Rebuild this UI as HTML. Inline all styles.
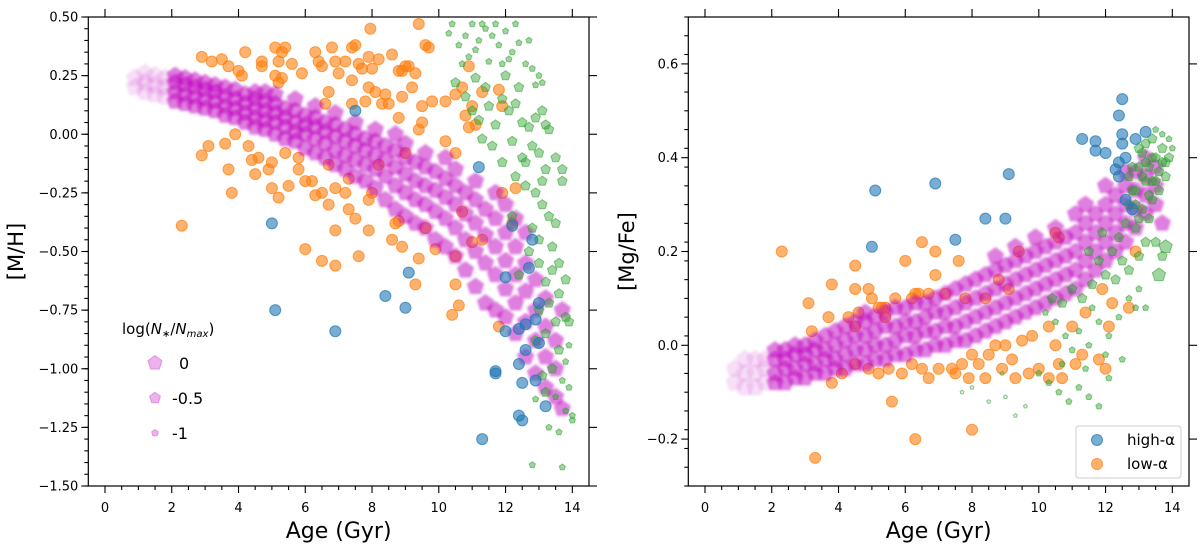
<!DOCTYPE html>
<html><head><meta charset="utf-8"><style>
html,body{margin:0;padding:0;background:#fff}
svg{display:block}
text{font-family:"DejaVu Sans","Liberation Sans",sans-serif;fill:#000}
</style></head><body>
<svg id="chart" width="1200" height="546" viewBox="0 0 1200 546" xmlns="http://www.w3.org/2000/svg">
<defs><filter id="soft" x="-5%" y="-5%" width="110%" height="110%"><feGaussianBlur stdDeviation="1.4"/></filter></defs>
</svg>
<script>
// ---------- data ----------
const xTicks=[0,2,4,6,8,10,12,14];
const leftYTicks=[0.5,0.25,0,-0.25,-0.5,-0.75,-1,-1.25,-1.5];
const leftYTickLabels=["0.50","0.25","0.00","\u22120.25","\u22120.50","\u22120.75","\u22121.00","\u22121.25","\u22121.50"];
const rightYTicks=[0.6,0.4,0.2,0,-0.2];
const rightYTickLabels=["0.6","0.4","0.2","0.0","\u22120.2"];

// magenta band (model): ages and values per age
const magAges=[0.9,1.2,1.5,1.8,2.1,2.4,2.7,3.0,3.3,3.6,3.9,4.2,4.5,4.8,5.1,5.4,5.7,6.0,6.3,6.6,6.9,7.2,7.5,7.8,8.1,8.4,8.7,9.0,9.3,9.6,9.9,10.2,10.5,10.8,11.1,11.4,11.7,12.0,12.3,12.6,12.9,13.2,13.5,13.7];
const magMH=[[0.20,0.24],[0.18,0.22,0.26],[0.17,0.21,0.25],[0.16,0.20,0.24],[0.14,0.18,0.22,0.25],[0.13,0.17,0.21,0.24],[0.12,0.16,0.20,0.23],[0.11,0.15,0.19,0.22],[0.10,0.14,0.18,0.21],[0.08,0.12,0.16,0.20],[0.07,0.11,0.15,0.19],[0.05,0.09,0.13,0.17],[0.03,0.07,0.11,0.15,0.18],[0.02,0.06,0.10,0.14,0.18],[0.00,0.05,0.09,0.13,0.17],[-0.02,0.03,0.07,0.11],[-0.03,0.01,0.05,0.10,0.15],[-0.06,0.00,0.04,0.08],[-0.08,-0.02,0.03,0.07,0.12],[-0.10,-0.04,0.01,0.05],[-0.13,-0.07,-0.01,0.04,0.09],[-0.15,-0.09,-0.03,0.02],[-0.18,-0.11,-0.05,0.00,0.05],[-0.20,-0.13,-0.07,-0.02],[-0.23,-0.15,-0.09,-0.03,0.02],[-0.28,-0.18,-0.11,-0.05],[-0.32,-0.22,-0.14,-0.07,0.00],[-0.35,-0.25,-0.17,-0.10,-0.04],[-0.38,-0.28,-0.20,-0.12],[-0.40,-0.30,-0.22,-0.14,-0.08],[-0.45,-0.33,-0.24,-0.16],[-0.48,-0.36,-0.27,-0.19,-0.10],[-0.52,-0.40,-0.30,-0.22,-0.15],[-0.58,-0.45,-0.34,-0.25],[-0.65,-0.50,-0.38,-0.28,-0.20],[-0.72,-0.55,-0.43,-0.32],[-0.75,-0.60,-0.48,-0.36,-0.25],[-0.78,-0.66,-0.54,-0.42,-0.30],[-0.85,-0.72,-0.60,-0.48,-0.36],[-0.95,-0.80,-0.67,-0.55,-0.42],[-1.02,-0.88,-0.75,-0.62],[-1.08,-0.95,-0.82,-0.70],[-1.12,-1.00,-0.88],[-1.17,-0.75]];
const magMgFe=[[-0.08,-0.05],[-0.09,-0.06,-0.03],[-0.09,-0.06,-0.03],[-0.08,-0.05,-0.03],[-0.08,-0.06,-0.03,-0.01],[-0.08,-0.05,-0.03,-0.01],[-0.07,-0.05,-0.02,0.00],[-0.07,-0.04,-0.02,0.00],[-0.06,-0.04,-0.01,0.01],[-0.06,-0.03,-0.01,0.02],[-0.05,-0.03,0.00,0.03],[-0.05,-0.02,0.01,0.04],[-0.04,-0.01,0.02,0.05],[-0.04,-0.01,0.02,0.05,0.07],[-0.03,0.00,0.03,0.06],[-0.03,0.00,0.04,0.07],[-0.02,0.01,0.04,0.08],[-0.02,0.02,0.05,0.08],[-0.01,0.02,0.05,0.09],[-0.01,0.03,0.06,0.09],[0.00,0.03,0.07,0.10],[0.00,0.04,0.07,0.11],[0.01,0.04,0.08,0.12],[0.01,0.05,0.09,0.13],[0.02,0.06,0.10,0.14],[0.03,0.07,0.11,0.15],[0.04,0.08,0.12,0.16,0.19],[0.05,0.09,0.13,0.17],[0.06,0.10,0.14,0.18,0.21],[0.07,0.11,0.15,0.19],[0.08,0.12,0.16,0.20,0.23],[0.09,0.13,0.17,0.21],[0.10,0.14,0.18,0.22,0.25],[0.11,0.15,0.19,0.23],[0.12,0.16,0.20,0.24,0.28],[0.14,0.18,0.22,0.26,0.30],[0.16,0.20,0.24,0.28],[0.18,0.22,0.26,0.30,0.34],[0.20,0.24,0.28,0.32],[0.22,0.26,0.30,0.34,0.37],[0.25,0.29,0.33,0.37],[0.28,0.32,0.36,0.40],[0.30,0.34,0.38],[0.26]];

// low-alpha stars (orange)
const lowAge1=[2.3,2.9,3.2,3.5,3.7,4.2,4.0,4.1,4.7,4.7,5.1,5.4,5.3,5.2,5.6,5.1,5.3,5.2,5.9,6.3,6.4,6.5,6.8,6.9,7.2,7.5,7.4,7.6,7.7,7.9,8.2,8.0,8.6,8.8,8.9,9.1,9.3,9.4,9.6,9.7,7.95,9.0,7.0,6.7,7.4,7.9,8.1,8.4,8.5,8.9,9.2,9.5,9.8,10.2,10.5,10.7,10.9,11.0,10.8,11.1,10.9,11.3,11.8,11.9,8.8,9.4,9.5,3.1,2.9,3.6,3.9,3.7,3.8,4.3,4.4,4.5,4.6,4.9,5.0,5.4,5.0,5.2,5.5,5.8,6.0,6.2,6.3,6.5,6.7,6.9,7.2,7.3,7.5,7.9,8.0,6.9,7.9,6.0,6.5,6.9,7.6,8.7,8.8,8.6,8.9,9.4,9.6,9.9,10.5,10.7,10.5,10.6,10.4,9.3,11.3,11.0,11.8,11.9,12.2,12.3,10.5,10.2,9.0,8.2,7.3,6.7,5.8,6.6,7.4,7.8,8.3];
const lowMH=[-0.39,0.33,0.31,0.32,0.29,0.35,0.27,0.25,0.31,0.29,0.37,0.37,0.35,0.31,0.30,0.25,0.24,0.22,0.26,0.35,0.31,0.29,0.37,0.31,0.31,0.38,0.37,0.30,0.28,0.33,0.32,0.28,0.34,0.27,0.27,0.29,0.26,0.47,0.38,0.37,0.45,0.29,0.26,0.18,0.23,0.20,0.18,0.17,0.13,0.16,0.20,0.12,0.14,0.14,0.17,0.20,0.29,0.12,0.08,0.04,0.03,0.18,0.19,0.12,0.07,0.02,0.05,-0.05,-0.09,-0.04,0.00,-0.15,-0.25,-0.05,-0.11,-0.17,-0.10,-0.15,-0.12,-0.08,-0.23,-0.27,-0.22,-0.15,-0.20,-0.20,-0.26,-0.25,-0.30,-0.23,-0.25,-0.32,-0.36,-0.28,-0.25,-0.41,-0.41,-0.49,-0.54,-0.56,-0.52,-0.38,-0.37,-0.45,-0.48,-0.53,-0.40,-0.49,-0.52,-0.33,-0.64,-0.73,-0.77,-0.64,-0.45,-0.46,-0.82,-0.25,-0.38,-0.23,-0.08,-0.03,-0.08,-0.13,-0.19,-0.13,-0.10,0.13,0.13,0.14,0.13];
const lowAge2=[2.3,3.1,3.2,3.7,3.8,3.8,3.3,4.3,4.5,4.5,4.5,4.6,4.9,5.0,5.2,5.3,5.4,5.4,5.7,5.6,6.0,6.2,6.3,6.4,6.5,6.7,6.9,6.9,7.6,7.2,6.3,8.0,6.7,7.5,7.9,8.4,8.9,9.3,9.7,10.0,10.3,10.7,10.6,11.1,11.8,12.0,12.1,12.2,12.7,12.9,10.5,10.6,9.4,11.4,11.0,10.5,10.3,9.8,9.5,9.0,8.7,8.5,8.2,8.0,7.7,7.4,7.0,6.5,6.2,5.9,5.5,5.2,4.9,4.5,4.1,11.3,9.2,9.1,8.4,8.8,7.8,11.9];
const lowMgFe=[0.20,0.09,0.03,0.06,0.13,-0.08,-0.24,0.06,0.04,0.12,0.17,0.07,0.12,0.10,0.08,0.08,0.08,0.06,0.10,-0.12,0.18,0.10,0.11,0.11,0.22,0.11,0.20,0.15,0.18,0.11,-0.20,-0.18,-0.07,-0.06,-0.07,-0.07,-0.05,-0.07,-0.06,-0.05,-0.07,-0.07,-0.04,-0.04,-0.03,-0.05,0.04,0.09,0.08,0.20,0.24,0.23,0.20,0.07,0.04,0.00,0.04,0.02,0.01,0.00,0.00,-0.02,-0.04,-0.02,-0.04,-0.05,-0.05,-0.05,-0.04,-0.06,-0.05,-0.06,-0.05,-0.04,-0.06,-0.02,-0.03,0.12,0.10,0.14,0.10,0.12];

// high-alpha stars (blue)
const highAge1=[5.0,5.1,6.9,8.4,9.0,9.1,7.5,11.2,11.7,11.7,11.3,12.0,12.0,12.2,12.4,12.4,12.5,12.4,12.5,12.6,12.7,12.8,12.9,13.0,12.9,13.2,13.0,12.6];
const highMH=[-0.38,-0.75,-0.84,-0.69,-0.74,-0.59,0.10,-0.14,-1.01,-1.02,-1.30,-0.84,-0.61,-0.39,-0.98,-0.83,-1.06,-1.20,-1.22,-0.81,-0.57,-0.45,-0.79,-0.72,-1.05,-1.16,-0.89,-0.92];
const highAge2=[5.0,5.1,6.9,7.5,8.4,9.0,9.1,11.3,11.7,11.7,12.0,12.4,12.5,12.5,12.5,13.2,12.3,12.4,12.6,12.9,12.4,12.6,12.8];
const highMgFe=[0.21,0.33,0.345,0.225,0.27,0.27,0.365,0.44,0.435,0.415,0.41,0.49,0.525,0.45,0.43,0.455,0.375,0.39,0.40,0.44,0.36,0.31,0.29];

// green model population: age, value, log(N/Nmax) size class
const grnAge1=[10.3,10.6,10.8,11.0,11.2,11.4,11.6,11.8,12.0,12.2,12.4,11.1,10.9,11.5,11.9,12.6,12.8,12.3,11.3,10.4,12.7,11.7,12.1,10.7,13.0,13.1,12.9,10.5,10.8,11.0,11.2,11.5,11.7,11.9,12.1,12.3,12.5,12.7,12.9,13.1,11.3,11.6,11.9,12.2,12.5,12.8,13.0,11.4,12.0,12.4,11.1,13.2,13.3,12.3,12.6,12.9,13.2,13.5,13.7,13.7,13.1,13.3,13.5,12.8,13.0,13.4,13.6,13.4,13.2,13.0,12.7,13.6,13.3,13.0,13.5,13.8,13.9,13.2,12.9,13.6,13.8,13.4,13.1,13.7,13.9,13.5,13.2,13.8,14.0,13.3,13.6,14.0,12.9,12.8,13.7,13.9,13.8,13.1,12.6,12.2,12.4];
const grnMH=[0.43,0.38,0.42,0.47,0.40,0.45,0.42,0.38,0.44,0.35,0.39,0.36,0.33,0.31,0.30,0.30,0.28,0.47,0.47,0.47,0.40,0.47,0.32,0.30,0.25,0.22,0.21,0.22,0.16,0.10,0.06,0.12,0.04,0.15,0.10,0.13,0.05,0.03,0.07,0.10,-0.02,-0.05,-0.12,-0.03,-0.10,-0.05,-0.08,0.20,0.25,0.20,0.24,0.04,0.02,-0.18,-0.22,-0.25,-0.15,-0.10,-0.15,-0.20,-0.30,-0.35,-0.38,-0.40,-0.45,-0.48,-0.55,-0.58,-0.63,-0.55,-0.50,-0.68,-0.72,-0.75,-0.80,-0.78,-0.80,-0.85,-0.88,-0.92,-0.97,-1.00,-1.03,-1.05,-1.08,-1.12,-1.10,-1.18,-1.20,-1.25,-1.27,-1.22,-1.13,-1.41,-1.42,-0.90,-0.62,-0.20,-0.12,-0.35,-0.60];
const grnSize1=[-1,-1,-1,-1,-1,-1,-1,-1,-1,-1,-1,-1,-1,-1,-1,-1,-1,-1,-1,-1,-1,-1,-1,-1,-1,-1,-1,-0.5,-0.5,-0.5,-0.5,-0.5,-0.5,-0.5,-0.5,-0.5,-0.5,-0.5,-0.5,-0.5,-0.5,-0.5,-0.5,-0.5,-0.5,-0.5,-0.5,-0.5,-0.5,-0.5,-0.5,-0.5,-0.5,-0.5,-0.5,-0.5,-0.5,-0.5,-0.5,-0.5,-0.5,-0.5,-0.5,-0.5,-0.5,-0.5,-0.5,-0.5,-0.5,-0.5,-0.5,-0.5,-0.5,-0.5,-0.5,-0.5,-0.5,-0.5,-0.5,-0.5,-1,-0.5,-0.5,-1,-1,-1,-0.5,-1,-1,-1,-1,-1,-1,-1,-1,-1,-0.5,-0.5,-0.5,-0.5,-0.5];
const grnAge2=[12.7,12.9,13.1,13.3,13.5,13.7,13.9,13.0,13.2,13.4,13.6,13.8,12.8,13.1,13.3,13.5,13.7,13.6,13.8,12.6,12.4,12.9,13.2,12.2,12.5,12.0,11.8,11.6,11.3,11.0,10.7,10.4,12.3,12.7,13.0,11.5,11.9,13.9,14.0,13.4,10.2,10.5,10.8,11.0,11.2,11.5,11.8,12.1,12.4,12.7,13.0,13.2,10.0,10.3,10.6,10.9,11.2,11.5,11.8,12.1,10.7,11.4,12.5,13.5,13.7,12.9,12.0,11.6,8.0,8.5,9.0,9.3,8.9,9.6,7.7,13.0,13.2,13.4,13.6,13.8,12.8,13.1,13.3,13.5,13.7,12.9,13.2,13.4,13.0,12.7];
const grnMgFe=[0.30,0.33,0.36,0.38,0.40,0.39,0.40,0.42,0.43,0.35,0.33,0.36,0.38,0.29,0.27,0.22,0.19,0.15,0.21,0.26,0.23,0.25,0.22,0.20,0.18,0.15,0.18,0.13,0.10,0.12,0.09,0.10,0.14,0.16,0.19,0.20,0.24,0.44,0.42,0.44,0.07,0.05,0.02,-0.01,0.03,0.00,0.05,0.02,0.06,0.10,0.12,0.08,-0.06,-0.08,-0.10,-0.12,-0.09,-0.11,-0.13,-0.07,-0.04,-0.05,-0.03,0.46,0.45,0.08,-0.02,0.08,-0.09,-0.12,-0.11,-0.15,-0.06,-0.13,-0.10,0.38,0.35,0.40,0.37,0.39,0.33,0.41,0.32,0.35,0.42,0.30,0.39,0.31,0.27,0.36];
const grnSize2=[-0.5,-0.5,-0.5,-0.5,-0.5,-0.5,-0.5,-0.5,-0.5,-0.5,-0.5,-0.5,-0.5,-0.5,-0.5,-0.5,-0.5,0,0,-0.5,-0.5,-0.5,-0.5,-0.5,-0.5,-0.5,-0.5,-0.5,-0.5,-0.5,-0.5,-0.5,-0.5,-0.5,-0.5,-0.5,-0.5,-1,-1,-0.5,-1,-1,-1,-1,-1,-1,-1,-1,-1,-1,-1,-1,-1,-1,-1,-1,-1,-1,-1,-1,-1,-1,-1,-1,-1,-1,-1,-1,-1.5,-1.5,-1.5,-1.5,-1.5,-1.5,-1.5,-0.5,-0.5,-0.5,-0.5,-0.5,-0.5,-0.5,-0.5,-0.5,-0.5,-0.5,-0.5,-0.5,-0.5,-0.5];

// ---------- drawing ----------
const NS="http://www.w3.org/2000/svg";
const svg=document.getElementById('chart');
function el(tag,attrs,parent){const e=document.createElementNS(NS,tag);for(const k in attrs)e.setAttribute(k,attrs[k]);(parent||svg).appendChild(e);return e;}
function pent(cx,cy,r){let p=[];for(let i=0;i<5;i++){const a=-Math.PI/2+i*2*Math.PI/5;p.push((cx+r*Math.cos(a)).toFixed(1)+','+(cy+r*Math.sin(a)).toFixed(1));}return p.join(' ');}
function sizeR(s){return s>=0?7:(s>=-0.5?5:(s>=-1?3.2:2));}

const panels=[
 {id:'left',x0:88.3,x1:589,y0:17,y1:486,xmin:-0.5,xmax:14.5,ymin:-1.5,ymax:0.5,yt:leftYTicks,ytl:leftYTickLabels,yminor:0.05,ylab:'[M/H]',ylx:16,
  mag:magMH,lowA:lowAge1,lowV:lowMH,hiA:highAge1,hiV:highMH,gA:grnAge1,gV:grnMH,gS:grnSize1},
 {id:'right',x0:688.3,x1:1189,y0:17,y1:486,xmin:-0.5,xmax:14.5,ymin:-0.3,ymax:0.7,yt:rightYTicks,ytl:rightYTickLabels,yminor:0.04,ylab:'[Mg/Fe]',ylx:627,
  mag:magMgFe,lowA:lowAge2,lowV:lowMgFe,hiA:highAge2,hiV:highMgFe,gA:grnAge2,gV:grnMgFe,gS:grnSize2}
];

panels.forEach(P=>{
 const X=v=>P.x0+(v-P.xmin)/(P.xmax-P.xmin)*(P.x1-P.x0);
 const Y=v=>P.y1-(v-P.ymin)/(P.ymax-P.ymin)*(P.y1-P.y0);
 const g=el('g',{});
 
 
 const clipId='clip-'+P.id;
 const cp=el('clipPath',{id:clipId},g);el('rect',{x:P.x0,y:P.y0,width:P.x1-P.x0,height:P.y1-P.y0},cp);
 const plot=el('g',{'clip-path':'url(#'+clipId+')'},g);
 
 
 // orange
 const go=el('g',{fill:'#ff7f0e','fill-opacity':0.6,stroke:'#ff7f0e','stroke-opacity':0.7},plot);
 
 
 P.lowA.forEach((a,i)=>{const c=el('circle',{cx:X(a),cy:Y(P.lowV[i]),r:5.5},go);
   
   });
 // magenta band
 const gm=el('g',{fill:'#c000c0',stroke:'#c000c0','stroke-width':1,filter:'url(#soft)'},plot);
 
 
 magAges.forEach((a,i)=>{P.mag[i].forEach(v=>{
   const young=a<2;
   const p=el('polygon',{points:pent(X(a),Y(v),young?9:8.5),'fill-opacity':young?0.12:0.5,'stroke-opacity':young?0.1:0.35},gm);
   
   
 });});
 // green (on top of magenta)
 const gg=el('g',{fill:'#2ca02c',stroke:'#2ca02c'},plot);
 
 
 P.gA.forEach((a,i)=>{const s=P.gS[i];const p=el('polygon',{points:pent(X(a),Y(P.gV[i]),sizeR(s)),'fill-opacity':s<=-1.5?0.15:0.45,'stroke-opacity':0.55},gg);
   
   });
 // blue
 const gb=el('g',{fill:'#1f77b4','fill-opacity':0.6,stroke:'#1f77b4','stroke-opacity':0.7},plot);
 
 
 P.hiA.forEach((a,i)=>{const c=el('circle',{cx:X(a),cy:Y(P.hiV[i]),r:5.5},gb);
   
   });
 // frame
 const fr=el('rect',{x:P.x0,y:P.y0,width:P.x1-P.x0,height:P.y1-P.y0,fill:'none',stroke:'#000','stroke-width':1.2},g);
 
 
 // x ticks
 const ax=el('g',{stroke:'#000','stroke-width':1.1},g);
 
 
 xTicks.forEach(t=>{const x=X(t);
   el('line',{x1:x,x2:x,y1:P.y1,y2:P.y1+7},ax);
   el('line',{x1:x,x2:x,y1:P.y0,y2:P.y0-8},ax);
   const tx=el('text',{x:x,y:P.y1+26,'text-anchor':'middle','font-size':13,stroke:'none'},g);
   tx.textContent=t;
   
   });
 for(let m=0;m<=14;m+=0.5){if(m%2!==0){const x=X(m);el('line',{x1:x,x2:x,y1:P.y1,y2:P.y1+4},ax);}}
 // y ticks
 const ay=el('g',{stroke:'#000','stroke-width':1.1},g);
 
 
 P.yt.forEach((t,i)=>{const y=Y(t);
   el('line',{x1:P.x0,x2:P.x0-7,y1:y,y2:y},ay);
   el('line',{x1:P.x1,x2:P.x1+8,y1:y,y2:y},ay);
   const tx=el('text',{x:P.x0-10,y:y+4.5,'text-anchor':'end','font-size':13,stroke:'none'},g);
   tx.textContent=P.ytl[i];
   
   });
 const n=Math.round((P.ymax-P.ymin)/P.yminor);
 for(let k=0;k<=n;k++){const v=P.ymin+k*P.yminor;const y=Y(v);el('line',{x1:P.x0,x2:P.x0-4,y1:y,y2:y},ay);}
 // axis titles
 const xl=el('text',{x:(P.x0+P.x1)/2,y:538,'text-anchor':'middle','font-size':22},g);
 xl.textContent='Age (Gyr)';
 
 
 const yl=el('text',{x:P.ylx,y:(P.y0+P.y1)/2,'text-anchor':'middle','font-size':21,transform:'rotate(-90 '+P.ylx+' '+(P.y0+P.y1)/2+')',dy:7},g);
 yl.textContent=P.ylab;
 
 
});

// left legend (marker sizes)
const lg=el('g',{});


const lt=el('text',{x:122,y:334,'font-size':15},lg);
lt.innerHTML='log(<tspan font-style="italic">N</tspan><tspan font-size="10" dy="3">\u2217</tspan><tspan dy="-3">/</tspan><tspan font-style="italic">N</tspan><tspan font-size="10" font-style="italic" dy="3">max</tspan><tspan dy="-3">)</tspan>';


const legSizes=[0,-0.5,-1];
const legLabels=['0','-0.5','-1'];
const legR=[7.5,5.8,3.6];
legSizes.forEach((s,i)=>{const y=363+i*35;
 const p=el('polygon',{points:pent(155,y,legR[i]),fill:'#c000c0','fill-opacity':0.3,stroke:'#c000c0','stroke-opacity':0.3},lg);
 
 
 const t=el('text',{x:i===0?179:172,y:y+6,'font-size':16},lg);
 t.textContent=legLabels[i];
 
 });

// right legend
const rg=el('g',{});


const rb=el('rect',{x:1076,y:426,width:105,height:52,rx:3,fill:'#fff','fill-opacity':0.8,stroke:'#ccc'},rg);


[['high-\u03b1','#1f77b4',440],['low-\u03b1','#ff7f0e',464]].forEach(e=>{
 const c=el('circle',{cx:1097,cy:e[2],r:5.5,fill:e[1],'fill-opacity':0.6,stroke:e[1],'stroke-opacity':0.7},rg);
 
 
 const t=el('text',{x:1127,y:e[2]+5,'font-size':15},rg);
 t.textContent=e[0];
 
 
});
</script>
</body></html>
